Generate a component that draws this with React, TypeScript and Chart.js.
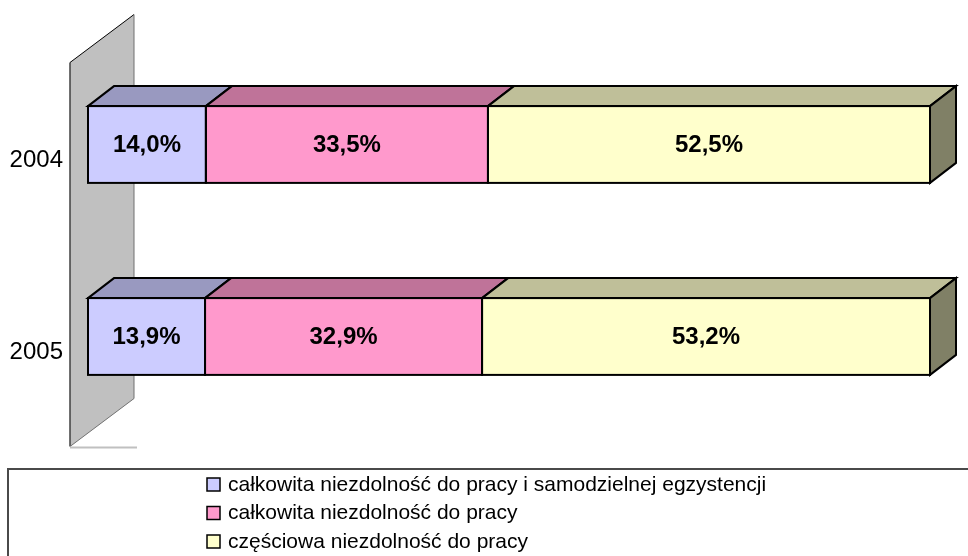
import React, { useEffect, useRef } from "react";
import { Chart, registerables } from "chart.js";

Chart.register(...registerables);

const categories = ["2004", "2005"];
const seriesNames = [
  "całkowita niezdolność do pracy i samodzielnej egzystencji",
  "całkowita niezdolność do pracy",
  "częściowa niezdolność do pracy",
];
const seriesTotal = [14.0, 13.9];
const seriesPartialTotal = [33.5, 32.9];
const seriesPartial = [52.5, 53.2];
const frontColors = ["#ccccff", "#ff99cc", "#ffffcc"];
const topColors = ["#9999c0", "#bf7399", "#bfbf99"];
const sideColors = ["#66667f", "#804c66", "#808066"];

const FONT = '"Liberation Sans", Arial, sans-serif';
const DX = 26;
const DY = -20;

const fmt = (v: number) => v.toFixed(1).replace(".", ",") + "%";

const threeD = {
  id: "threeD",
  beforeDatasetsDraw(chart: any) {
    const { ctx, chartArea } = chart;
    const fx = chartArea.left - 18;
    const fyT = chartArea.top + 14;
    const fyB = chartArea.bottom + 14;
    const bx = fx + 64;
    const byT = fyT - 48;
    const byB = fyB - 48;
    ctx.save();
    ctx.beginPath();
    ctx.moveTo(fx, fyT);
    ctx.lineTo(bx, byT);
    ctx.lineTo(bx, byB);
    ctx.lineTo(fx, fyB);
    ctx.closePath();
    ctx.fillStyle = "#c0c0c0";
    ctx.fill();
    ctx.lineWidth = 1.5;
    ctx.strokeStyle = "#404040";
    ctx.beginPath();
    ctx.moveTo(fx, fyB);
    ctx.lineTo(fx, fyT);
    ctx.stroke();
    ctx.lineWidth = 1;
    ctx.strokeStyle = "#000";
    ctx.beginPath();
    ctx.moveTo(fx, fyT);
    ctx.lineTo(bx, byT);
    ctx.stroke();
    ctx.strokeStyle = "#707070";
    ctx.beginPath();
    ctx.moveTo(bx, byT);
    ctx.lineTo(bx, byB);
    ctx.lineTo(fx, fyB);
    ctx.stroke();
    ctx.strokeStyle = "#c0c0c0";
    ctx.lineWidth = 2;
    ctx.beginPath();
    ctx.moveTo(fx, fyB + 1);
    ctx.lineTo(bx + 3, fyB + 1);
    ctx.stroke();
    ctx.restore();
  },
  afterDatasetsDraw(chart: any) {
    const { ctx, chartArea } = chart;
    const n = chart.data.datasets.length;
    ctx.save();
    ctx.lineJoin = "miter";
    for (let d = 0; d < n; d++) {
      const meta = chart.getDatasetMeta(d);
      meta.data.forEach((bar: any) => {
        const p = bar.getProps(["x", "y", "base", "height"], true);
        const x0 = Math.min(p.base, p.x);
        const x1 = Math.max(p.base, p.x);
        const y0 = p.y - p.height / 2;
        const y1 = p.y + p.height / 2;
        ctx.beginPath();
        ctx.moveTo(x0, y0);
        ctx.lineTo(x0 + DX, y0 + DY);
        ctx.lineTo(x1 + DX, y0 + DY);
        ctx.lineTo(x1, y0);
        ctx.closePath();
        ctx.fillStyle = topColors[d];
        ctx.fill();
        ctx.lineWidth = 2;
        ctx.strokeStyle = "#000";
        ctx.stroke();
        if (d === n - 1) {
          ctx.beginPath();
          ctx.moveTo(x1, y0);
          ctx.lineTo(x1 + DX, y0 + DY);
          ctx.lineTo(x1 + DX, y1 + DY);
          ctx.lineTo(x1, y1);
          ctx.closePath();
          ctx.fillStyle = sideColors[d];
          ctx.fill();
          ctx.stroke();
        }
        ctx.strokeRect(x0, y0, x1 - x0, y1 - y0);
      });
    }
    ctx.fillStyle = "#000";
    ctx.font = "bold 24px " + FONT;
    ctx.textAlign = "center";
    ctx.textBaseline = "middle";
    for (let d = 0; d < n; d++) {
      const meta = chart.getDatasetMeta(d);
      meta.data.forEach((bar: any, i: number) => {
        const p = bar.getProps(["x", "y", "base"], true);
        const v = chart.data.datasets[d].data[i];
        ctx.fillText(fmt(v), (p.x + p.base) / 2, p.y + 1);
      });
    }
    ctx.font = "24px " + FONT;
    ctx.textAlign = "right";
    const ys = chart.scales.y;
    chart.data.labels.forEach((lab: string, i: number) => {
      ctx.fillText(lab, chartArea.left - 25, ys.getPixelForValue(i) + 16);
    });
    const W = chart.width;
    ctx.strokeStyle = "#4a4a4a";
    ctx.lineWidth = 2;
    ctx.strokeRect(8, 469, W + 10, 200);
    ctx.font = "21px " + FONT;
    ctx.textAlign = "left";
    chart.data.datasets.forEach((ds: any, d: number) => {
      const y = 484 + d * 28.5;
      ctx.fillStyle = ds.backgroundColor;
      ctx.fillRect(207, y - 6, 13, 13);
      ctx.lineWidth = 1.5;
      ctx.strokeStyle = "#000";
      ctx.strokeRect(207, y - 6, 13, 13);
      ctx.fillStyle = "#000";
      ctx.fillText(ds.label, 228, y + 1);
    });
    ctx.restore();
  },
};

export default function App() {
  const ref = useRef<HTMLCanvasElement>(null);
  useEffect(() => {
    const values = [seriesTotal, seriesPartialTotal, seriesPartial];
    const chart = new Chart(ref.current!, {
      type: "bar",
      data: {
        labels: categories,
        datasets: seriesNames.map((name, i) => ({
          label: name,
          data: values[i],
          backgroundColor: frontColors[i],
          borderWidth: 0,
          categoryPercentage: 0.8,
          barPercentage: 0.5,
        })),
      },
      options: {
        indexAxis: "y",
        responsive: false,
        animation: false,
        events: [],
        layout: { padding: { left: 88, right: 38, top: 48.5, bottom: 123.5 } },
        plugins: { legend: { display: false }, tooltip: { enabled: false } },
        scales: {
          x: { stacked: true, min: 0, max: 100, display: false },
          y: { stacked: true, display: false },
        },
      },
      plugins: [threeD],
    } as any);
    return () => chart.destroy();
  }, []);
  return (
    <div style={{ position: "absolute", left: 0, top: 0, width: 968, height: 556, background: "#fff" }}>
      <canvas ref={ref} width={968} height={556} style={{ display: "block" }} />
    </div>
  );
}
